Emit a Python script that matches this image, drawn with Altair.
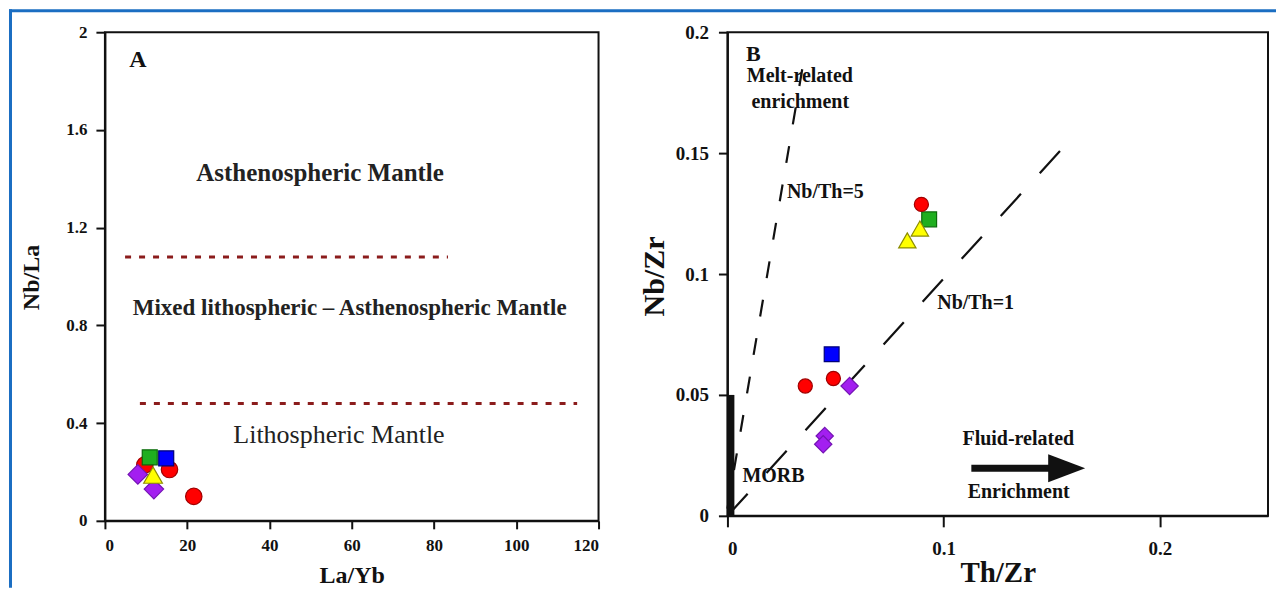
import altair as alt
import pandas as pd

FONT = "Liberation Serif"
BLUE = "#1b6ec2"
INK = "#111111"

# ---------------- Panel A : Nb/La vs La/Yb ----------------
a_x_ticks = [0, 20, 40, 60, 80, 100, 120]
a_y_ticks = [0, 0.4, 0.8, 1.2, 1.6, 2]

a_circle_x = [9.7, 15.7, 21.6]
a_circle_y = [0.229, 0.21, 0.10]
a_circle_group = ["red", "red", "red"]
a_square_x = [10.9, 14.9]
a_square_y = [0.26, 0.256]
a_square_group = ["green", "blue"]
a_diamond_x = [8.0, 11.9]
a_diamond_y = [0.19, 0.13]
a_diamond_group = ["purple", "purple"]
a_triangle_x = [11.7]
a_triangle_y = [0.187]
a_triangle_group = ["yellow"]

a_bound_y = [1.08, 0.48]
a_bound_x1 = [4.9, 8.5]
a_bound_x2 = [83.4, 114.8]

a_text = ["A", "Asthenospheric Mantle",
          "Mixed lithospheric \u2013 Asthenospheric Mantle", "Lithospheric Mantle"]
a_text_x = [8.0, 52.3, 59.5, 56.9]
a_text_y = [1.885, 1.423, 0.871, 0.352]

# ---------------- Panel B : Nb/Zr vs Th/Zr ----------------
b_x_ticks = [0, 0.1, 0.2]
b_y_ticks = [0, 0.05, 0.1, 0.15, 0.2]

b_square_x = [0.0933, 0.0482]
b_square_y = [0.1226, 0.0668]
b_square_group = ["green", "blue"]
b_circle_x = [0.0897, 0.036, 0.049]
b_circle_y = [0.1288, 0.0537, 0.0568]
b_circle_group = ["red", "red", "red"]
b_diamond_x = [0.0565, 0.045, 0.0443]
b_diamond_y = [0.0537, 0.033, 0.0296]
b_diamond_group = ["purple", "purple", "purple"]
b_triangle_x = [0.089, 0.0832]
b_triangle_y = [0.1188, 0.1139]
b_triangle_group = ["yellow", "yellow"]

nbth1_x = [0.0, 0.158]
nbth1_y = [0.0, 0.155]
nbth5_x = [0.0, 0.0356]
nbth5_y = [0.003, 0.19]
morb_x = [0.0016]
morb_y1 = [0.0]
morb_y2 = [0.05]
arrow_x1 = [0.1128]
arrow_x2 = [0.149]
arrow_y = [0.0197]
arrow_head_x = [0.1569]

b_text = ["B", "Melt-related", "enrichment", "Nb/Th=5", "Nb/Th=1", "MORB",
          "Fluid-related", "Enrichment"]
b_text_x = [0.012, 0.0335, 0.0337, 0.0453, 0.1148, 0.0213, 0.1345, 0.1347]
b_text_y = [0.191, 0.1817, 0.171, 0.1338, 0.0881, 0.0165, 0.0317, 0.0099]

groups = ["red", "green", "blue", "yellow", "purple"]
fills = ["#ff0000", "#1fae1f", "#0000ff", "#ffff00", "#a31ff0"]
strokes = ["#a00000", "#0b6b0b", "#00007a", "#8c8c00", "#7414b4"]

fill_enc = alt.Fill("group:N", scale=alt.Scale(domain=groups, range=fills), legend=None)
stroke_enc = alt.Stroke("group:N", scale=alt.Scale(domain=groups, range=strokes), legend=None)


def axes(xdom, ydom, xticks, yticks, xt, yt, xcfg, ycfg):
    X = alt.X("x:Q", title=xt, scale=alt.Scale(domain=xdom, nice=False, zero=False),
              axis=alt.Axis(values=xticks, format="~r", **xcfg))
    Y = alt.Y("y:Q", title=yt, scale=alt.Scale(domain=ydom, nice=False, zero=False),
              axis=alt.Axis(values=yticks, format="~r", **ycfg))
    return X, Y


def points(xs, ys, gs, shape, size, X, Y):
    df = pd.DataFrame({"x": xs, "y": ys, "group": gs})
    return alt.Chart(df).mark_point(shape=shape, size=size, filled=True, opacity=1,
                                    strokeWidth=1.2).encode(x=X, y=Y, fill=fill_enc, stroke=stroke_enc)


def texts(idx, labels, xs, ys, X, Y, size, weight="bold", color=INK):
    df = pd.DataFrame({"x": [xs[i] for i in idx], "y": [ys[i] for i in idx],
                       "t": [labels[i] for i in idx]})
    return alt.Chart(df).mark_text(font=FONT, fontSize=size, fontWeight=weight, color=color,
                                   align="center", baseline="middle").encode(x=X, y=Y, text="t:N")


# ---------- build panel A ----------
XA, YA = axes([0, 120], [0, 2], a_x_ticks, a_y_ticks, "La/Yb", "Nb/La",
              dict(labelFontSize=17, tickSize=8, labelPadding=9, titleFontSize=24,
                   titleBaseline="alphabetic", titleY=62),
              dict(labelFontSize=17, tickSize=9, labelPadding=9, titleFontSize=24,
                   titleBaseline="alphabetic", titleX=-66, titleY=245))

# blue page border (decoration, pixel placed relative to panel A)
dummy = pd.DataFrame({"d": [0]})
frame_top = alt.Chart(dummy).mark_rect(color=BLUE).encode(
    x=alt.value(-96), x2=alt.value(1172), y=alt.value(-23), y2=alt.value(-20))
frame_left = alt.Chart(dummy).mark_rect(color=BLUE).encode(
    x=alt.value(-96), x2=alt.value(-93), y=alt.value(-23), y2=alt.value(556))

bounds_df = pd.DataFrame({"x": a_bound_x1, "x2": a_bound_x2, "y": a_bound_y})
a_bounds = alt.Chart(bounds_df).mark_rule(color="#8b1c1c", strokeWidth=3, strokeDash=[6, 8]).encode(
    x=XA, x2="x2:Q", y=YA)

panel_a = alt.layer(
    frame_top, frame_left, a_bounds,
    points(a_circle_x, a_circle_y, a_circle_group, "circle", 270, XA, YA),
    points(a_square_x, a_square_y, a_square_group, "square", 225, XA, YA),
    points(a_diamond_x, a_diamond_y, a_diamond_group, "diamond", 380, XA, YA),
    points(a_triangle_x, a_triangle_y, a_triangle_group, "triangle-up", 350, XA, YA),
    texts([0], a_text, a_text_x, a_text_y, XA, YA, 24),
    texts([1], a_text, a_text_x, a_text_y, XA, YA, 25, color="#222222"),
    texts([2], a_text, a_text_x, a_text_y, XA, YA, 23, color="#222222"),
    texts([3], a_text, a_text_x, a_text_y, XA, YA, 26, weight="normal", color="#222222"),
).properties(width=494, height=489)

# ---------- build panel B ----------
XB, YB = axes([0, 0.25], [0, 0.2], b_x_ticks, b_y_ticks, "Th/Zr", "Nb/Zr",
              dict(labelFontSize=19, tickSize=11, labelPadding=13, titleFontSize=29,
                   titleBaseline="alphabetic", titleY=66),
              dict(labelFontSize=19, tickSize=9, labelPadding=10, titleFontSize=30,
                   titleBaseline="alphabetic", titleX=-64, titleY=244))

nb1 = alt.Chart(pd.DataFrame({"x": nbth1_x, "y": nbth1_y})).mark_line(
    color=INK, strokeWidth=2.2, strokeDash=[30, 28]).encode(x=XB, y=YB)
nb5 = alt.Chart(pd.DataFrame({"x": nbth5_x, "y": nbth5_y})).mark_line(
    color=INK, strokeWidth=2.2, strokeDash=[17, 22]).encode(x=XB, y=YB)
morb = alt.Chart(pd.DataFrame({"x": morb_x, "y": morb_y1, "y2": morb_y2})).mark_rule(
    color=INK, strokeWidth=7).encode(x=XB, y=YB, y2="y2:Q")
arrow = alt.Chart(pd.DataFrame({"x": arrow_x1, "x2": arrow_x2, "y": arrow_y})).mark_rule(
    color=INK, strokeWidth=7).encode(x=XB, x2="x2:Q", y=YB)
head = alt.Chart(pd.DataFrame({"x": arrow_head_x, "y": arrow_y})).mark_point(
    shape="M-1,-0.76L1,0L-1,0.76Z", size=1369, filled=True, opacity=1, color=INK).encode(x=XB, y=YB)

panel_b = alt.layer(
    nb1, nb5, morb, arrow, head,
    points(b_square_x, b_square_y, b_square_group, "square", 220, XB, YB),
    points(b_circle_x, b_circle_y, b_circle_group, "circle", 200, XB, YB),
    points(b_diamond_x, b_diamond_y, b_diamond_group, "diamond", 300, XB, YB),
    points(b_triangle_x, b_triangle_y, b_triangle_group, "triangle-up", 300, XB, YB),
    texts([0], b_text, b_text_x, b_text_y, XB, YB, 22),
    texts(list(range(1, len(b_text))), b_text, b_text_x, b_text_y, XB, YB, 20),
).properties(width=541, height=484)

chart = alt.hconcat(panel_a, panel_b, spacing=129, bounds="flush").properties(
    padding=0,
    background="white",
).configure_view(stroke=INK, strokeWidth=2).configure_axis(
    grid=False, domainColor=INK, domainWidth=2, tickColor=INK, tickWidth=2,
    labelFont=FONT, labelFontWeight="bold", labelColor=INK,
    titleFont=FONT, titleFontWeight="bold", titleColor=INK,
)

chart.save("out.html", embed_options={"renderer": "svg", "actions": False})
